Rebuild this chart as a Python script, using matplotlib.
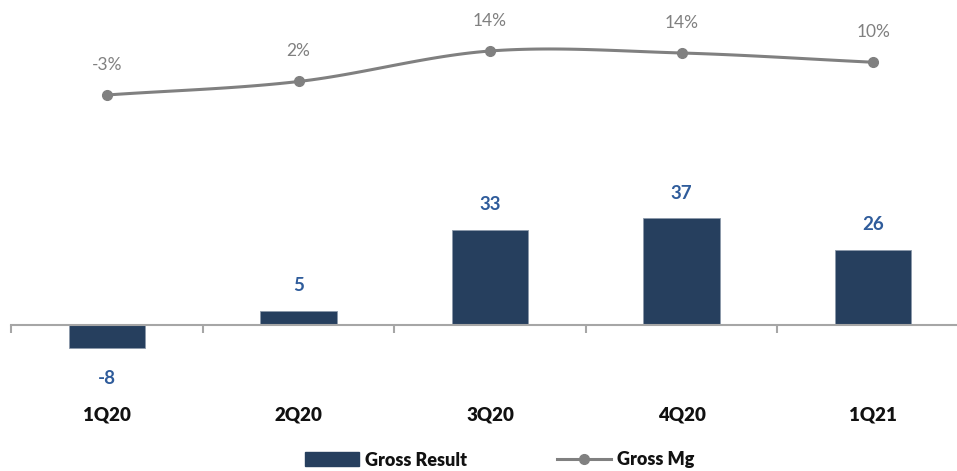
import numpy as np
import matplotlib
matplotlib.use("Agg")
import matplotlib.pyplot as plt
from matplotlib.patches import Patch
from matplotlib.lines import Line2D

categories = ["1Q20", "2Q20", "3Q20", "4Q20", "1Q21"]
gross_result = [-8, 5, 33, 37, 26]
gross_mg = [-3.2, 2.2, 14.4, 13.6, 9.9]

plt.rcParams['font.family'] = ['Lato', 'DejaVu Sans']

BAR_C = "#263F5E"
BAR_LABEL_C = "#2F5C9B"
LINE_C = "#808080"
AXIS_C = "#A6A6A6"

fig = plt.figure(figsize=(9.57, 4.71), dpi=100)
ax = fig.add_axes([0.0117, 0.2357, 1.0008, 0.7006])
x = np.arange(len(categories))

ax.bar(x, gross_result, width=0.4, color=BAR_C, edgecolor="#8c99aa", linewidth=0.6, zorder=2)
ax.set_xlim(-0.5, len(categories) - 0.5)
ax.set_ylim(-12.15, 102.4)
for s in ["top", "left", "right"]:
    ax.spines[s].set_visible(False)
ax.spines["bottom"].set_position(("data", 0))
ax.spines["bottom"].set_color(AXIS_C)
ax.spines["bottom"].set_linewidth(1.5)
ax.set_yticks([])
ax.set_xticks(np.arange(len(categories) + 1) - 0.5)
ax.set_xticklabels([])
ax.tick_params(axis="x", length=6, width=1.5, color=AXIS_C, direction="out")

for xi, v in zip(x, gross_result):
    if v >= 0:
        ax.annotate(f"{v}", (xi, v), xytext=(0, 12), textcoords="offset points",
                    ha="center", va="bottom", color=BAR_LABEL_C, fontsize=13.5, fontweight="bold")
    else:
        ax.annotate(f"{v}", (xi, v), xytext=(0, -16), textcoords="offset points",
                    ha="center", va="top", color=BAR_LABEL_C, fontsize=13.5, fontweight="bold")

for xi, c in zip(x, categories):
    ax.annotate(c, (xi, 0), xytext=(0, -65), textcoords="offset points",
                ha="center", va="center", color="#111111", fontsize=13.5, fontweight="heavy")

ax2 = ax.twinx()
ax2.set_ylim(-109.2, 22.8)
ax2.axis("off")

# smooth curve (Catmull-Rom) through the data points
px = np.array(x, dtype=float)
py = np.array(gross_mg, dtype=float)
P = np.column_stack([px, py])
P = np.vstack([2 * P[0] - P[1], P, 2 * P[-1] - P[-2]])
cx, cy = [], []
for i in range(1, len(P) - 2):
    p0, p1, p2, p3 = P[i - 1], P[i], P[i + 1], P[i + 2]
    t = np.linspace(0, 1, 30)[:, None]
    pts = 0.5 * ((2 * p1) + (-p0 + p2) * t + (2 * p0 - 5 * p1 + 4 * p2 - p3) * t ** 2
                 + (-p0 + 3 * p1 - 3 * p2 + p3) * t ** 3)
    cx.extend(pts[:, 0]); cy.extend(pts[:, 1])
ax2.plot(cx, cy, color=LINE_C, lw=2.2, zorder=3, solid_capstyle="round")
ax2.plot(px, py, "o", color=LINE_C, ms=7, zorder=4)
for xi, v in zip(px, py):
    ax2.annotate(f"{v:.0f}%", (xi, v), xytext=(0, 16), textcoords="offset points",
                 ha="center", va="bottom", color=LINE_C, fontsize=12.5)

handles = [Patch(facecolor=BAR_C, edgecolor=BAR_C),
           Line2D([0], [0], color=LINE_C, lw=2.2, marker="o", ms=7)]
leg = fig.legend(handles, ["Gross Result", "Gross Mg"], loc="center",
                 bbox_to_anchor=(0.522, 1 - 460 / 471), ncol=2, frameon=False,
                 fontsize=13, handlelength=3.0, handleheight=0.8, columnspacing=5.0,
                 handletextpad=0.3)
for t in leg.get_texts():
    t.set_fontweight("heavy")
    t.set_color("#111111")

fig.savefig("out.png", dpi=100)
